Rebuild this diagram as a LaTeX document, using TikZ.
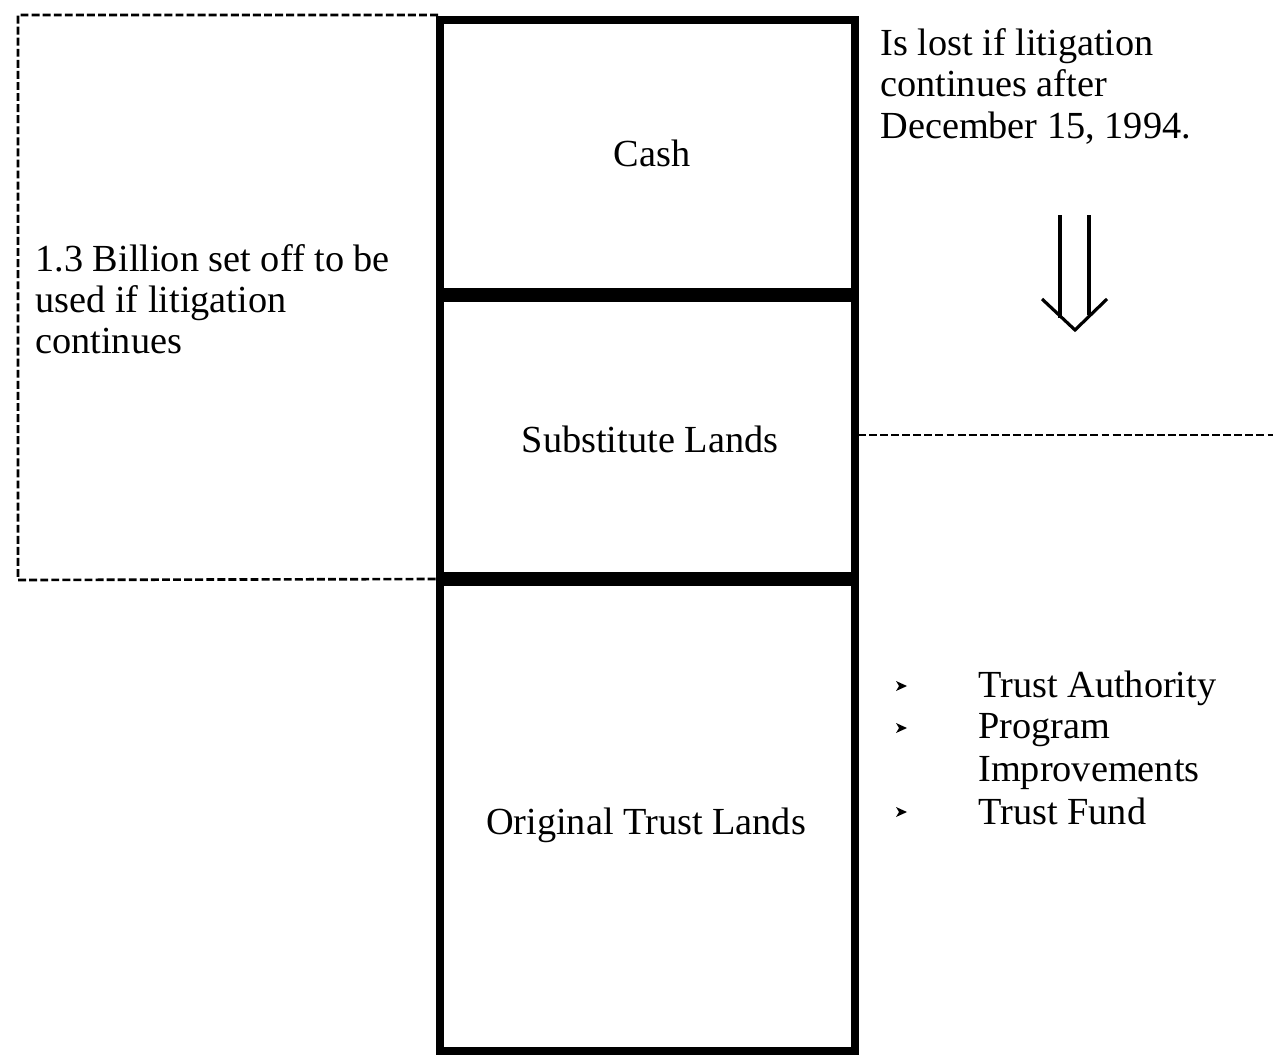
\documentclass[tikz,border=0pt]{standalone}
\usepackage{fontspec}
\setmainfont{Liberation Serif}
\begin{document}
\begin{tikzpicture}[x=0.02cm,y=-0.02cm,
  txt/.style={inner sep=0pt, font=\fontsize{21.8}{24}\selectfont},
  colline/.style={line width=4.5pt},
  sepline/.style={line width=8pt},
  dashline/.style={line width=1.5pt, dash pattern=on 4.5pt off 1.8pt},
  bullet/.style={fill=black},
  thinarrow/.style={line width=1.8pt}]
\useasboundingbox (0,0) rectangle (1273,1054);
% column
\coordinate (ctl) at (440,20);
\coordinate (cbr) at (855,1051);
\draw[colline] (ctl) rectangle (cbr);
\coordinate (s1l) at (440,295);
\coordinate (s1r) at (855,295);
\coordinate (s2l) at (440,579);
\coordinate (s2r) at (855,579);
\draw[sepline] (s1l) -- (s1r);
\draw[sepline] (s2l) -- (s2r);
% dashed box at left
\coordinate (dtl) at (18,15);
\coordinate (dbl) at (18,580);
\draw[dashline] (438,15) -- (dtl) -- (dbl) -- (s2l);
% dashed line at right
\coordinate (dr) at (1273,435);
\draw[dashline] (858,435) -- (dr);
% section labels
\node[txt, anchor=base] (cash) at (652,167) {Cash};
\node[txt, anchor=base] (subst) at (650,452) {Substitute Lands};
\node[txt, anchor=base] (orig) at (646,834) {Original Trust Lands};
% left text
\node[txt, anchor=base west] (l1) at (35,271) {1.3 Billion set off to be};
\node[txt, anchor=base west] (l2) at (35,312) {used if litigation};
\node[txt, anchor=base west] (l3) at (35,353) {continues};
% right text
\node[txt, anchor=base west] (r1) at (880,56) {Is lost if litigation};
\node[txt, anchor=base west] (r2) at (880,97) {continues after};
\node[txt, anchor=base west] (r3) at (880,139) {December 15, 1994.};
% double arrow
\coordinate (a1t) at (1060,215);
\coordinate (a1b) at (1060,318);
\coordinate (a2t) at (1089,215);
\coordinate (a2b) at (1089,315);
\coordinate (atip) at (1075,330);
\draw[thinarrow] (a1t) -- (a1b);
\draw[thinarrow] (a2t) -- (a2b);
\draw[thinarrow, line join=miter] (1042,299) -- (atip) -- (1107,299);
% bullets
\foreach \yy/\nm in {686/b1,728/b2,812/b3}{
  \fill[bullet] (896,\yy-5) -- (907,\yy) -- (896,\yy+5) -- (899,\yy) -- cycle;
}
\node[txt, anchor=base west] (t1) at (978,697) {Trust Authority};
\node[txt, anchor=base west] (t2) at (978,738) {Program};
\node[txt, anchor=base west] (t3) at (978,781) {Improvements};
\node[txt, anchor=base west] (t4) at (978,824) {Trust Fund};
\end{tikzpicture}
\end{document}
